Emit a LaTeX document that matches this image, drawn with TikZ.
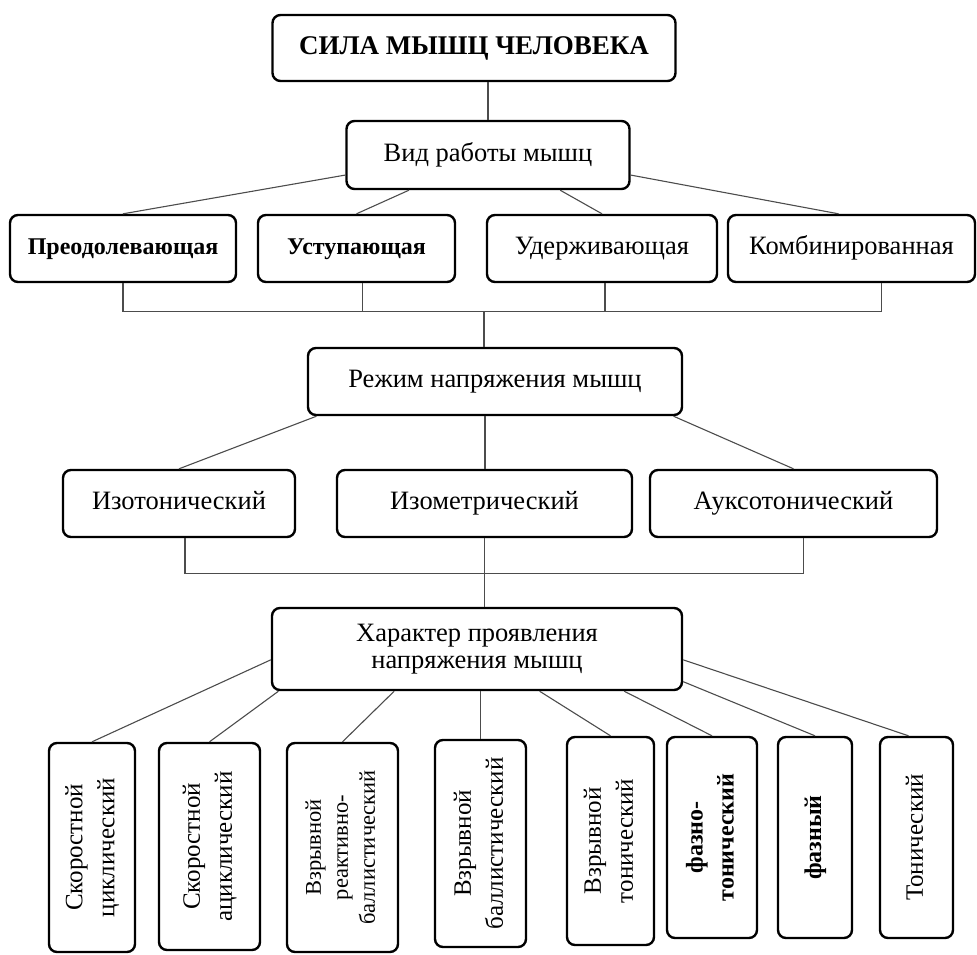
\documentclass[tikz,border=0pt]{standalone}
\usepackage{fontspec}
\setmainfont{Liberation Serif}
\usepackage{graphicx}
\usetikzlibrary{positioning}

\newcommand{\vlab}[1]{\rotatebox{90}{\begin{tabular}{@{}c@{}}#1\end{tabular}}}

\begin{document}
\begin{tikzpicture}[semithick,                                                          % Line settings
        node distance = 2cm and 3cm, on grid,                                          % Node placement settings
        box/.style = {draw=black, line width=2.4pt, rounded corners=8pt, inner sep=0pt,
                      align=center, font=\fontsize{26.5}{27}\selectfont},               % Defining boxes
        wide/.style = {box, minimum height=67pt, text height=18pt, text depth=6pt},    % Horizontal boxes
        tall/.style = {box, font=\fontsize{25}{32}\selectfont},                        % Boxes with turned text
        link/.style = {draw=black!70, line width=1.1pt}]                               % Connectors
    \useasboundingbox (0,0) rectangle (977pt,-954pt);
    \node[wide, minimum width=403pt, minimum height=66pt, font=\fontsize{27}{32}\selectfont\bfseries] (top) at (474pt,-48pt) {СИЛА МЫШЦ ЧЕЛОВЕКА};
    \node[wide, minimum width=283pt, minimum height=68pt] (vid) [below right=107pt and 14pt of top] {Вид работы мышц};
    \node[wide, minimum width=226pt, font=\fontsize{24}{30}\selectfont\bfseries] (over) [below left=93.5pt and 365pt of vid] {Преодолевающая};
    \node[wide, minimum width=197pt, font=\fontsize{24}{30}\selectfont\bfseries] (yield) [below left=93.5pt and 131.5pt of vid] {Уступающая};
    \node[wide, minimum width=230pt] (hold) [below right=93.5pt and 114pt of vid] {Удерживающая};
    \node[wide, minimum width=247pt] (comb) [below right=93.5pt and 363.5pt of vid] {Комбинированная};
    \node[wide, minimum width=374pt] (mode) [below right=226.5pt and 7pt of vid] {Режим напряжения мышц};
    \node[wide, minimum width=232pt] (isot) [below left=122pt and 316pt of mode] {Изотонический};
    \node[wide, minimum width=295pt] (isom) [below left=122pt and 10.5pt of mode] {Изометрический};
    \node[wide, minimum width=287pt] (auxo) [below right=122pt and 298.5pt of mode] {Ауксотонический};
    \node[box, minimum width=410pt, minimum height=82pt] (kind) [below left=267.5pt and 18pt of mode] {Характер проявления\\напряжения мышц};
    \node[tall, minimum width=86pt, minimum height=209pt] (spcyc) [below left=198.5pt and 385pt of kind] {\vlab{Скоростной\\циклический}};
    \node[tall, minimum width=101pt, minimum height=207pt] (spacyc) [below left=197.5pt and 267.5pt of kind] {\vlab{Скоростной\\ациклический}};
    \node[tall, minimum width=111pt, minimum height=209pt, font=\fontsize{22.5}{27}\selectfont] (exreb) [below left=198.5pt and 134.5pt of kind] {\vlab{Взрывной\\реактивно-\\баллистический}};
    \node[tall, minimum width=91pt, minimum height=207pt] (exbal) [below right=194.5pt and 3.5pt of kind] {\vlab{Взрывной\\баллистический}};
    \node[tall, minimum width=87pt, minimum height=208pt] (exton) [below right=192pt and 133.5pt of kind] {\vlab{Взрывной\\тонический}};
    \node[tall, minimum width=90pt, minimum height=201pt, font=\fontsize{24}{31}\selectfont\bfseries] (phton) [below right=188.5pt and 235pt of kind] {\vlab{фазно-\\тонический}};
    \node[tall, minimum width=74pt, minimum height=201pt, font=\fontsize{24}{31}\selectfont\bfseries] (phas) [below right=188.5pt and 338pt of kind] {\vlab{фазный}};
    \node[tall, minimum width=73pt, minimum height=201pt] (ton) [below right=188.5pt and 439.5pt of kind] {\vlab{Тонический}};
    \coordinate[below=28pt of over.south] (bus1);
    \coordinate[below=35pt of isot.south] (bus2);
    %edge:fan
    \path[link]
        (vid.north) edge (vid.north |- top.south)
        (vid.188) edge (over.north)
        (vid.204) edge (yield.north)
        (vid.334) edge (hold.north)
        (vid.352) edge ([xshift=-13pt]comb.north)
        (mode.191) edge (isot.north)
        ([xshift=-10pt]mode.south) edge ([xshift=-10pt]mode.south |- isom.north)
        (mode.349) edge (auxo.north)
        (kind.183) edge (spcyc.north)
        (kind.192) edge (spacyc.north)
        (kind.207) edge (exreb.north)
        (exbal.north) edge (exbal.north |- kind.south)
        (kind.326) edge (exton.north)
        (kind.344) edge (phton.north)
        (kind.351) edge (phas.north)
        (kind.357) edge ([xshift=-8pt]ton.north);
    %edge:bracket
    \draw[link] (over.south) -- (bus1) -| ([xshift=30pt]comb.south);
    \draw[link] ([xshift=6pt]yield.south) -- ([xshift=6pt]yield.south |- bus1);
    \draw[link] ([xshift=3pt]hold.south) -- ([xshift=3pt]hold.south |- bus1);
    \draw[link] ([xshift=-11pt]mode.north) -- ([xshift=-11pt]mode.north |- bus1);
    \draw[link] ([xshift=6pt]isot.south) -- ([xshift=6pt]isot.south |- bus2) -| ([xshift=10pt]auxo.south);
    \draw[link] (isom.south) -- (isom.south |- kind.north);
\end{tikzpicture}
\end{document}
